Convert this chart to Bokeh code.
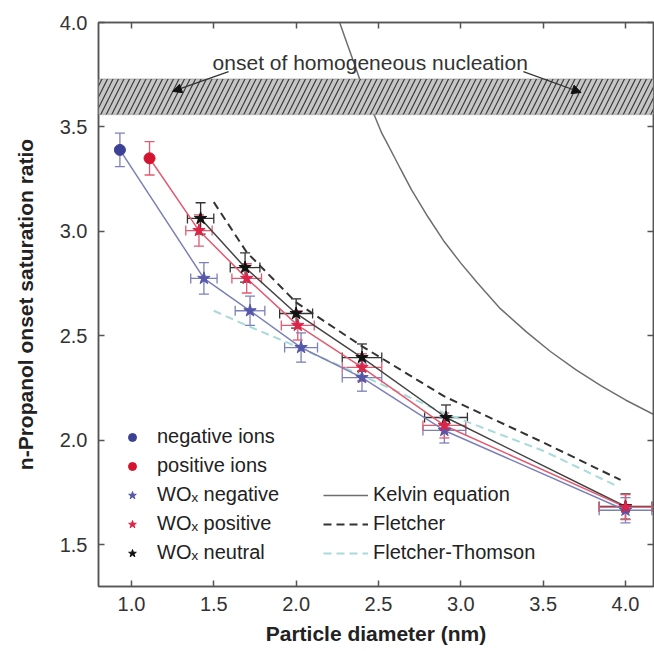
from bokeh.plotting import figure
from bokeh.models import (Range1d, LinearAxis, FixedTicker, Whisker, TeeHead, ColumnDataSource,
                          Legend, LegendItem, Label, Arrow, NormalHead, BoxAnnotation,
                          PrintfTickFormatter)
from bokeh.embed import file_html
from bokeh.resources import INLINE

# ---------------- data ----------------
x_ticks = [1.0, 1.5, 2.0, 2.5, 3.0, 3.5, 4.0]
x_tick_labels = ["1.0", "1.5", "2.0", "2.5", "3.0", "3.5", "4.0"]
y_ticks = [1.5, 2.0, 2.5, 3.0, 3.5, 4.0]
y_tick_labels = ["1.5", "2.0", "2.5", "3.0", "3.5", "4.0"]

neg_ion_x = [0.93]
neg_ion_y = [3.39]
neg_ion_yerr = [0.08]

pos_ion_x = [1.11]
pos_ion_y = [3.35]
pos_ion_yerr = [0.08]

wox_neg_x = [1.44, 1.72, 2.03, 2.40, 2.90, 4.00]
wox_neg_y = [2.775, 2.62, 2.444, 2.30, 2.047, 1.665]
wox_pos_x = [1.41, 1.70, 2.01, 2.40, 2.90, 4.00]
wox_pos_y = [3.004, 2.775, 2.55, 2.349, 2.071, 1.68]
wox_neu_x = [1.42, 1.69, 2.00, 2.40, 2.91, 4.00]
wox_neu_y = [3.062, 2.827, 2.607, 2.396, 2.109, 1.683]
wox_xerr = [0.08, 0.09, 0.10, 0.12, 0.13, 0.16]
wox_yerr = [0.075, 0.07, 0.07, 0.065, 0.06, 0.06]

kelvin_d = [2.26, 2.30, 2.35, 2.39, 2.44, 2.475, 2.52, 2.554, 2.60, 2.633, 2.70, 2.80, 2.90,
            3.00, 3.10, 3.24, 3.40, 3.544, 3.70, 3.85, 4.00, 4.175]
kelvin_s = [4.01, 3.92, 3.81, 3.72, 3.62, 3.556, 3.47, 3.42, 3.35, 3.30, 3.20, 3.07, 2.95,
            2.848, 2.754, 2.63, 2.518, 2.425, 2.337, 2.262, 2.193, 2.122]

fletcher_d = [1.50, 1.70, 2.00, 2.40, 2.90, 3.50, 3.97]
fletcher_s = [3.14, 2.90, 2.66, 2.45, 2.21, 1.99, 1.81]

ft_d = [1.50, 1.70, 2.00, 2.40, 2.90, 3.50, 3.95]
ft_s = [2.62, 2.55, 2.45, 2.31, 2.13, 1.95, 1.78]

band_low, band_high = 3.56, 3.73
note_text = "onset of homogeneous nucleation"
note_x, note_y = 2.45, 3.81
arrow_x0 = [1.59, 3.38]
arrow_y0 = [3.765, 3.765]
arrow_x1 = [1.25, 3.73]
arrow_y1 = [3.67, 3.665]

# ---------------- styling ----------------
FONT = "Liberation Sans"
AX = "#555555"
BLUE = "#3d4196"
BLUE_L = "#7b80b8"
RED = "#d4142e"
RED_L = "#e25a70"
BLACK = "#111111"

p = figure(width=654, height=651, x_range=Range1d(0.8, 4.17), y_range=Range1d(1.3, 4.0),
           output_backend="svg", toolbar_location=None,
           min_border_left=98, min_border_right=1, min_border_top=22, min_border_bottom=65)
p.grid.visible = False
p.outline_line_color = AX
p.outline_line_width = 1.5
p.background_fill_color = "white"
p.border_fill_color = "white"

p.xaxis.axis_label = "Particle diameter (nm)"
p.yaxis.axis_label = "n-Propanol onset saturation ratio"
p.xaxis.ticker = FixedTicker(ticks=x_ticks)
p.yaxis.ticker = FixedTicker(ticks=y_ticks)
p.xaxis.formatter = PrintfTickFormatter(format="%.1f")
p.yaxis.formatter = PrintfTickFormatter(format="%.1f")
p.xaxis.major_label_overrides = dict(zip(x_ticks, x_tick_labels))
p.yaxis.major_label_overrides = dict(zip(y_ticks, y_tick_labels))

for ax in [p.xaxis[0], p.yaxis[0]]:
    ax.major_tick_in = 6
    ax.major_tick_out = 0
    ax.minor_tick_in = 0
    ax.minor_tick_out = 0
    ax.axis_line_color = AX
    ax.axis_line_width = 1.5
    ax.major_tick_line_color = AX
    ax.major_tick_line_width = 1.5
    ax.major_label_text_font = FONT
    ax.major_label_text_font_size = "20px"
    ax.major_label_text_color = "#333333"
    ax.axis_label_text_font = FONT
    ax.axis_label_text_font_style = "bold"
    ax.axis_label_text_font_size = "21px"
    ax.axis_label_text_color = "#222222"
p.xaxis.major_label_standoff = 10
p.xaxis.axis_label_standoff = 8
p.yaxis.major_label_standoff = 11
p.yaxis.axis_label_standoff = 20

for loc, ticks in [("right", y_ticks), ("above", x_ticks)]:
    ax = LinearAxis(ticker=FixedTicker(ticks=ticks), major_label_text_font_size="0px",
                    major_label_text_color=None,
                    major_tick_in=6, major_tick_out=0, minor_tick_in=0, minor_tick_out=0,
                    major_label_standoff=0, axis_line_color=AX, axis_line_width=1.5,
                    major_tick_line_color=AX, major_tick_line_width=1.5)
    p.add_layout(ax, loc)

# Kelvin curve (under the band)
r_kelvin = p.line(kelvin_d, kelvin_s, line_color="#6e6e6e", line_width=1.5)

# hatched band
band = BoxAnnotation(bottom=band_low, top=band_high, fill_color="#c6c6c6", fill_alpha=1.0,
                     hatch_pattern="/", hatch_color="#3a3a3a", hatch_weight=1.2, hatch_scale=11,
                     line_color="#666666", line_width=1.5)
p.add_layout(band)

# theory lines
r_fl = p.line(fletcher_d, fletcher_s, line_color="#333333", line_width=2, line_dash="8 5")
r_ft = p.line(ft_d, ft_s, line_color="#a9dada", line_width=2, line_dash="8 5")

# connecting lines
p.line(wox_neu_x, wox_neu_y, line_color="#444444", line_width=1.5)
p.line(neg_ion_x + wox_neg_x, neg_ion_y + wox_neg_y, line_color=BLUE_L, line_width=1.5)
p.line(pos_ion_x + wox_pos_x, pos_ion_y + wox_pos_y, line_color=RED_L, line_width=1.5)


def yerr(xs, ys, es, color):
    src = ColumnDataSource(dict(x=xs, lo=[y - e for y, e in zip(ys, es)],
                                hi=[y + e for y, e in zip(ys, es)]))
    w = Whisker(source=src, base="x", lower="lo", upper="hi", dimension="height",
                line_color=color, line_width=1.3,
                upper_head=TeeHead(size=10, line_color=color, line_width=1.3),
                lower_head=TeeHead(size=10, line_color=color, line_width=1.3))
    p.add_layout(w)


def xerr(xs, ys, es, color):
    src = ColumnDataSource(dict(y=ys, lo=[x - e for x, e in zip(xs, es)],
                                hi=[x + e for x, e in zip(xs, es)]))
    w = Whisker(source=src, base="y", lower="lo", upper="hi", dimension="width",
                line_color=color, line_width=1.3,
                upper_head=TeeHead(size=10, line_color=color, line_width=1.3),
                lower_head=TeeHead(size=10, line_color=color, line_width=1.3))
    p.add_layout(w)


yerr(neg_ion_x, neg_ion_y, neg_ion_yerr, BLUE_L)
yerr(pos_ion_x, pos_ion_y, pos_ion_yerr, RED_L)
for xs, ys, c in [(wox_neu_x, wox_neu_y, "#333333"), (wox_neg_x, wox_neg_y, BLUE_L),
                  (wox_pos_x, wox_pos_y, RED_L)]:
    yerr(xs, ys, wox_yerr, c)
    xerr(xs, ys, wox_xerr, c)

r_neu = p.scatter(wox_neu_x, wox_neu_y, marker="star", size=13, color=BLACK)
r_wneg = p.scatter(wox_neg_x, wox_neg_y, marker="star", size=13, color="#5557a8")
r_wpos = p.scatter(wox_pos_x, wox_pos_y, marker="star", size=13, color="#dc2448")
r_neg = p.scatter(neg_ion_x, neg_ion_y, marker="circle", size=11, color=BLUE)
r_pos = p.scatter(pos_ion_x, pos_ion_y, marker="circle", size=11, color=RED)

# annotation
p.add_layout(Label(x=note_x, y=note_y, text=note_text, text_align="center",
                   text_baseline="middle", text_font=FONT, text_font_size="21px",
                   text_color="#333333"))
for xa, ya, xb, yb in zip(arrow_x0, arrow_y0, arrow_x1, arrow_y1):
    p.add_layout(Arrow(x_start=xa, y_start=ya, x_end=xb, y_end=yb,
                       line_color="#333333", line_width=1.2,
                       end=NormalHead(size=9, fill_color="#111111", line_color="#111111")))

# legends
common = dict(padding=0, margin=0, spacing=6, glyph_height=20, label_height=20,
              label_text_font=FONT, label_text_font_size="20px", label_text_color="#222222",
              border_line_alpha=0, background_fill_alpha=0)
leg1 = Legend(items=[LegendItem(label="negative ions", renderers=[r_neg]),
                     LegendItem(label="positive ions", renderers=[r_pos]),
                     LegendItem(label="WO\u2093 negative", renderers=[r_wneg]),
                     LegendItem(label="WO\u2093 positive", renderers=[r_wpos]),
                     LegendItem(label="WO\u2093 neutral", renderers=[r_neu])],
              location=(24, 22), glyph_width=20, label_standoff=15, **common)
leg2 = Legend(items=[LegendItem(label="Kelvin equation", renderers=[r_kelvin]),
                     LegendItem(label="Fletcher", renderers=[r_fl]),
                     LegendItem(label="Fletcher-Thomson", renderers=[r_ft])],
              location=(225, 22), glyph_width=45, label_standoff=5, **common)
p.add_layout(leg1)
p.add_layout(leg2)

open("out.html", "w").write(file_html(p, INLINE))
